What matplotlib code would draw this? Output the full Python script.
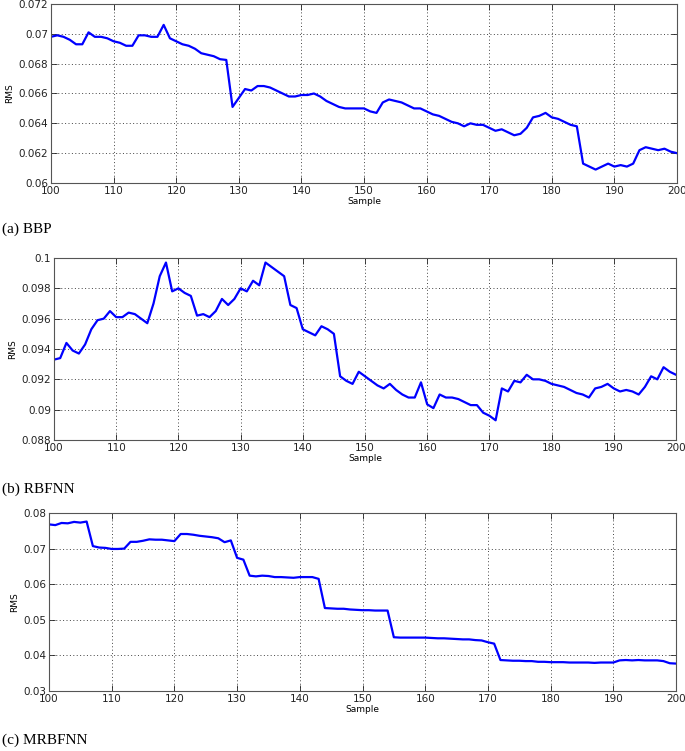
import numpy as np
import matplotlib
matplotlib.use("Agg")
import matplotlib.pyplot as plt

samples = np.arange(100, 201)

rms_bbp = [
    0.0698, 0.0699, 0.0698, 0.0696, 0.0693, 0.0693, 0.0701, 0.0698, 0.0698, 0.0697,
    0.0695, 0.0694, 0.0692, 0.0692, 0.0699, 0.0699, 0.0698, 0.0698, 0.0706, 0.0697,
    0.0695, 0.0693, 0.0692, 0.0690, 0.0687, 0.0686, 0.0685, 0.0683, 0.06825, 0.0651,
    0.0657, 0.0663, 0.0662, 0.0665, 0.0665, 0.0664, 0.0662, 0.0660, 0.0658, 0.0658,
    0.0659, 0.0659, 0.0660, 0.0658, 0.0655, 0.0653, 0.0651, 0.0650, 0.0650, 0.0650,
    0.0650, 0.0648, 0.0647, 0.0654, 0.0656, 0.0655, 0.0654, 0.0652, 0.0650, 0.0650,
    0.0648, 0.0646, 0.0645, 0.0643, 0.0641, 0.0640, 0.0638, 0.0640, 0.0639, 0.0639,
    0.0637, 0.0635, 0.0636, 0.0634, 0.0632, 0.0633, 0.0637, 0.0644, 0.0645, 0.0647,
    0.0644, 0.0643, 0.0641, 0.0639, 0.0638, 0.0613, 0.0611, 0.0609, 0.0611, 0.0613,
    0.0611, 0.0612, 0.0611, 0.0613, 0.0622, 0.0624, 0.0623, 0.0622, 0.0623, 0.0621,
    0.0620,
]

rms_rbfnn = [
    0.0933, 0.0934, 0.0944, 0.0939, 0.0937, 0.0943, 0.0953, 0.0959, 0.0960, 0.0965,
    0.0961, 0.0961, 0.0964, 0.0963, 0.0960, 0.0957, 0.0970, 0.0988, 0.0997, 0.0978,
    0.0980, 0.0977, 0.0975, 0.0962, 0.0963, 0.0961, 0.0965, 0.0973, 0.0969, 0.0973,
    0.0980, 0.0978, 0.0985, 0.0982, 0.0997, 0.0994, 0.0991, 0.0988, 0.0969, 0.0967,
    0.0953, 0.0951, 0.0949, 0.0955, 0.0953, 0.0950, 0.0922, 0.0919, 0.0917, 0.0925,
    0.0922, 0.0919, 0.0916, 0.0914, 0.0917, 0.0913, 0.0910, 0.0908, 0.0908, 0.0918,
    0.09035, 0.0901, 0.0910, 0.0908, 0.0908, 0.0907, 0.0905, 0.0903, 0.0903, 0.0898,
    0.0896, 0.0893, 0.0914, 0.0912, 0.0919, 0.0918, 0.0923, 0.0920, 0.0920, 0.0919,
    0.0917, 0.0916, 0.0915, 0.0913, 0.0911, 0.0910, 0.0908, 0.0914, 0.0915, 0.0917,
    0.0914, 0.0912, 0.0913, 0.0912, 0.0910, 0.0915, 0.0922, 0.0920, 0.0928, 0.0925,
    0.0923,
]

rms_mrbfnn = [
    0.0768, 0.0766, 0.0772, 0.0771, 0.0775, 0.0773, 0.0776, 0.0707, 0.0703, 0.0702,
    0.0699, 0.0699, 0.0700, 0.0719, 0.0719, 0.0722, 0.0726, 0.0725, 0.0725, 0.0723,
    0.0721, 0.0741, 0.0741, 0.0739, 0.0736, 0.0734, 0.0732, 0.0729, 0.0718, 0.0723,
    0.0674, 0.0669, 0.0624, 0.0622, 0.0624, 0.0623, 0.0620, 0.0620, 0.0619, 0.0618,
    0.0620, 0.0620, 0.0620, 0.0615, 0.0533, 0.0532, 0.0531, 0.0531, 0.0529, 0.0528,
    0.0527, 0.0527, 0.0526, 0.0526, 0.0526, 0.0451, 0.0450, 0.0450, 0.0450, 0.0450,
    0.0450, 0.0449, 0.0448, 0.0448, 0.0447, 0.0446, 0.0445, 0.0445, 0.0443, 0.0442,
    0.0437, 0.0433, 0.0387, 0.0386, 0.0385, 0.0385, 0.0384, 0.0384, 0.0382, 0.0382,
    0.0381, 0.0381, 0.0381, 0.0380, 0.0380, 0.0380, 0.0380, 0.0379, 0.0380, 0.0380,
    0.0380, 0.0386, 0.0387, 0.0386, 0.0387, 0.0386, 0.0386, 0.0386, 0.0384, 0.0378,
    0.0377,
]

captions = ["(a) BBP", "(b) RBFNN", "(c) MRBFNN"]
x_ticks = [100, 110, 120, 130, 140, 150, 160, 170, 180, 190, 200]
y_ticks_bbp = [0.06, 0.062, 0.064, 0.066, 0.068, 0.07, 0.072]
y_ticks_rbfnn = [0.088, 0.09, 0.092, 0.094, 0.096, 0.098, 0.1]
y_ticks_mrbfnn = [0.03, 0.04, 0.05, 0.06, 0.07, 0.08]

W, H = 685, 751
fig = plt.figure(figsize=(W / 100, H / 100), dpi=100)

# axes boxes in pixels: left, top, right, bottom
boxes = [(51, 4, 677, 183), (54, 258, 676, 440), (49, 513, 676, 691)]
caption_y = [229, 489, 740]
series = [rms_bbp, rms_rbfnn, rms_mrbfnn]
yticks_all = [y_ticks_bbp, y_ticks_rbfnn, y_ticks_mrbfnn]

for (l, t, r, b), data, yt, cap, cy in zip(boxes, series, yticks_all, captions, caption_y):
    ax = fig.add_axes([l / W, 1 - b / H, (r - l) / W, (b - t) / H])
    ax.plot(samples, data, color="#0000ff", linewidth=1.6)
    ax.set_xlim(100, 200)
    ax.set_ylim(yt[0], yt[-1])
    ax.set_xticks(x_ticks)
    ax.set_yticks(yt)
    ax.set_yticklabels([f"{v:g}" for v in yt])
    ax.grid(True, linestyle=(0, (1, 2.5)), color="#444444", linewidth=0.7)
    ax.tick_params(direction="in", top=True, right=True, labelsize=7.5,
                   length=4, width=0.6, colors="#222222", pad=2)
    for s in ax.spines.values():
        s.set_linewidth(0.8)
        s.set_color("#555555")
    ax.set_xlabel("Sample", fontsize=6.5, labelpad=1)
    ax.set_ylabel("RMS", fontsize=6.5, labelpad=3)
    fig.text(2 / W, 1 - cy / H, cap, fontsize=11, family="Liberation Serif",
             va="center", ha="left")

fig.savefig("out.png", dpi=100)
